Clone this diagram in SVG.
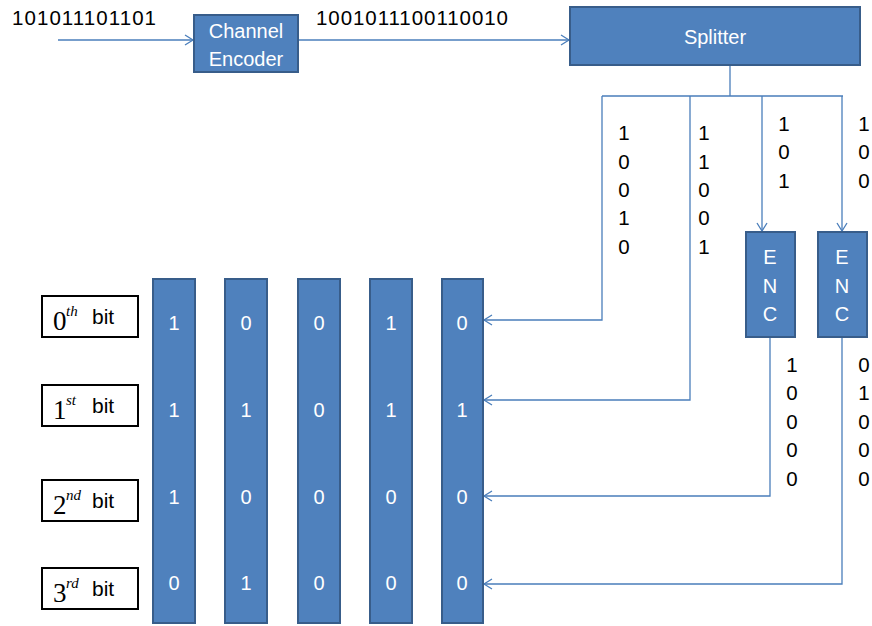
<svg xmlns="http://www.w3.org/2000/svg" width="872" height="626" viewBox="0 0 872 626">
<style>
.blk{fill:#4F81BD;stroke:#385D8A;stroke-width:2}
.wt{fill:#fff;font-family:"Liberation Sans",Arial,sans-serif;font-size:20px;text-anchor:middle}
.bt{fill:#000;font-family:"Liberation Sans",Arial,sans-serif;font-size:20.5px;text-anchor:middle}
.lab{fill:#fff;stroke:#000;stroke-width:2}
.ser{font-family:"Liberation Serif","Times New Roman",serif;fill:#000}
.con{fill:none;stroke:#4A7EBB;stroke-width:1.3}
</style>
<defs>
<marker id="ah" markerUnits="userSpaceOnUse" markerWidth="12" markerHeight="12" refX="9" refY="6" orient="auto">
<path d="M1,1 L9,6 L1,11" fill="none" stroke="#4A7EBB" stroke-width="1.3"/>
</marker>
</defs>
<rect width="872" height="626" fill="#fff"/>
<text class="bt" x="12" y="25" style="text-anchor:start" textLength="144">101011101101</text>
<text class="bt" x="316" y="25" style="text-anchor:start" textLength="192">1001011100110010</text>
<g id="connectors">
<path class="con" d="M58,40 H193" marker-end="url(#ah)"/>
<path class="con" d="M298,40 H569" marker-end="url(#ah)"/>
<path class="con" d="M730,65 V96 M602,96 H843"/>
<path class="con" d="M602,96 V320 H484" marker-end="url(#ah)"/>
<path class="con" d="M690,96 V400 H484" marker-end="url(#ah)"/>
<path class="con" d="M762,96 V231" marker-end="url(#ah)"/>
<path class="con" d="M842,96 V231" marker-end="url(#ah)"/>
<path class="con" d="M770,337 V496 H484" marker-end="url(#ah)"/>
<path class="con" d="M842,337 V584 H484" marker-end="url(#ah)"/>
</g>
<g id="encoder">
<rect class="blk" x="194" y="15" width="104" height="57"/>
<text class="wt" x="246" y="38">Channel</text>
<text class="wt" x="246" y="66">Encoder</text>
</g>
<g id="splitter">
<rect class="blk" x="570" y="7" width="290" height="58"/>
<text class="wt" x="715" y="44">Splitter</text>
</g>
<g id="enc1">
<rect class="blk" x="746" y="232" width="49" height="105"/>
<text class="wt" x="770" y="264">E</text>
<text class="wt" x="770" y="293">N</text>
<text class="wt" x="770" y="321">C</text>
</g>
<g id="enc2">
<rect class="blk" x="818" y="232" width="49" height="105"/>
<text class="wt" x="842" y="264">E</text>
<text class="wt" x="842" y="293">N</text>
<text class="wt" x="842" y="321">C</text>
</g>
<g id="split-bits">
<text class="bt" x="624" y="140">1</text><text class="bt" x="624" y="169">0</text><text class="bt" x="624" y="197">0</text><text class="bt" x="624" y="225">1</text><text class="bt" x="624" y="254">0</text>
<text class="bt" x="704" y="140">1</text><text class="bt" x="704" y="169">1</text><text class="bt" x="704" y="197">0</text><text class="bt" x="704" y="225">0</text><text class="bt" x="704" y="254">1</text>
<text class="bt" x="784" y="131">1</text><text class="bt" x="784" y="159">0</text><text class="bt" x="784" y="188">1</text>
<text class="bt" x="864" y="131">1</text><text class="bt" x="864" y="159">0</text><text class="bt" x="864" y="188">0</text>
<text class="bt" x="792" y="372">1</text><text class="bt" x="792" y="400">0</text><text class="bt" x="792" y="429">0</text><text class="bt" x="792" y="457">0</text><text class="bt" x="792" y="486">0</text>
<text class="bt" x="864" y="372">0</text><text class="bt" x="864" y="400">1</text><text class="bt" x="864" y="429">0</text><text class="bt" x="864" y="457">0</text><text class="bt" x="864" y="486">0</text>
</g>
<g id="col1"><rect class="blk" x="153" y="279" width="42" height="344"/>
<text class="wt" x="174" y="330">1</text><text class="wt" x="174" y="417">1</text><text class="wt" x="174" y="504">1</text><text class="wt" x="174" y="590">0</text></g>
<g id="col2"><rect class="blk" x="225" y="279" width="42" height="344"/>
<text class="wt" x="246" y="330">0</text><text class="wt" x="246" y="417">1</text><text class="wt" x="246" y="504">0</text><text class="wt" x="246" y="590">1</text></g>
<g id="col3"><rect class="blk" x="298" y="279" width="42" height="344"/>
<text class="wt" x="319" y="330">0</text><text class="wt" x="319" y="417">0</text><text class="wt" x="319" y="504">0</text><text class="wt" x="319" y="590">0</text></g>
<g id="col4"><rect class="blk" x="370" y="279" width="42" height="344"/>
<text class="wt" x="391" y="330">1</text><text class="wt" x="391" y="417">1</text><text class="wt" x="391" y="504">0</text><text class="wt" x="391" y="590">0</text></g>
<g id="col5"><rect class="blk" x="442" y="279" width="41" height="344"/>
<text class="wt" x="462" y="330">0</text><text class="wt" x="462" y="417">1</text><text class="wt" x="462" y="504">0</text><text class="wt" x="462" y="590">0</text></g>
<g id="bit0"><rect class="lab" x="42" y="296" width="96" height="41"/>
<text class="ser" x="53" y="330" font-size="27">0</text><text class="ser" x="66" y="316" font-size="15" font-style="italic">th</text>
<text class="bt" x="92" y="324" style="text-anchor:start;font-size:21px">bit</text></g>
<g id="bit1"><rect class="lab" x="42" y="385" width="96" height="41"/>
<text class="ser" x="53" y="419" font-size="27">1</text><text class="ser" x="66" y="405" font-size="15" font-style="italic">st</text>
<text class="bt" x="92" y="413" style="text-anchor:start;font-size:21px">bit</text></g>
<g id="bit2"><rect class="lab" x="42" y="480" width="96" height="41"/>
<text class="ser" x="53" y="514" font-size="27">2</text><text class="ser" x="66" y="500" font-size="15" font-style="italic">nd</text>
<text class="bt" x="92" y="508" style="text-anchor:start;font-size:21px">bit</text></g>
<g id="bit3"><rect class="lab" x="42" y="568" width="96" height="41"/>
<text class="ser" x="53" y="602" font-size="27">3</text><text class="ser" x="66" y="588" font-size="15" font-style="italic">rd</text>
<text class="bt" x="92" y="596" style="text-anchor:start;font-size:21px">bit</text></g>
</svg>
